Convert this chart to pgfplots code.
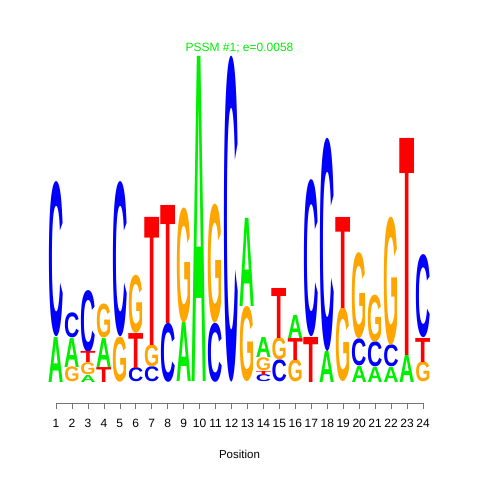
\documentclass[border=0pt]{standalone}
\usepackage{graphicx}
\usepackage{pgfplots}
\pgfplotsset{compat=1.18}
\usepackage{fontspec}
\setmainfont{Liberation Sans}
\definecolor{logoA}{RGB}{0,238,0}
\definecolor{logoC}{RGB}{0,0,255}
\definecolor{logoG}{RGB}{255,165,0}
\definecolor{logoT}{RGB}{255,0,0}
\newdimen\logounit \logounit=162.5bp
\newcommand{\logoletter}[1]{\resizebox*{15.3bp}{\h\logounit}{\bfseries #1}}
\pgfplotsset{
  logo/.style 2 args={
    only marks, mark=none,
    visualization depends on=value \thisrow{h}\as\h,
    nodes near coords={\logoletter{#1}},
    every node near coord/.append style={anchor=south, inner sep=0pt, outer sep=0pt, text=#2},
  }
}
\begin{document}
\begin{tikzpicture}
\begin{axis}[
  name=ax,
  scale only axis, width=367bp, height=346bp,
  xmin=1, xmax=24, ymin=-0.12923, ymax=2,
  axis x line*=bottom, axis y line=none,
  xtick={1,...,24}, ytick=\empty,
  tick align=outside, major tick length=6bp,
  x axis line style={black!55, line width=0.6bp},
  xtick style={black!55, line width=0.6bp},
  /pgf/number format/assume math mode=true,
  xticklabel style={font=\fontsize{12bp}{14bp}\selectfont, anchor=base, yshift=-18bp},
  clip=false,
  title={PSSM \#1; e=0.0058},
  title style={at={(axis description cs:0.5,1)}, anchor=base, yshift=-0.5bp, font=\fontsize{12bp}{14bp}\selectfont, text=logoA},
  xlabel={Position},
  xlabel style={at={(axis description cs:0.5,0)}, anchor=base, yshift=-55bp, font=\fontsize{11.5bp}{14bp}\selectfont},
]
\addplot[logo={A}{logoA}] table[x=x,y=b]{
x b h
1 0 0.277
2 0.092 0.178
3 0 0.043
4 0.092 0.178
9 0 0.363
10 0 2.0
13 0.462 0.542
14 0.148 0.123
16 0.270 0.142
18 0 0.191
20 0 0.098
21 0 0.092
22 0 0.092
23 0 0.166
};
\addplot[logo={C}{logoC}] table[x=x,y=b]{
x b h
1 0.277 0.954
2 0.270 0.154
3 0.185 0.380
5 0.277 0.954
6 0 0.086
7 0 0.092
8 0 0.363
11 0 0.363
12 0 2.0
14 0 0.043
15 0 0.135
17 0.277 0.966
18 0.191 1.311
20 0.098 0.166
21 0.092 0.154
22 0.092 0.135
24 0.271 0.511
};
\addplot[logo={G}{logoG}] table[x=x,y=b]{
x b h
2 0 0.092
3 0.043 0.074
4 0.270 0.209
5 0 0.277
6 0.301 0.357
7 0.092 0.135
9 0.363 0.708
11 0.363 0.732
13 0 0.462
14 0.068 0.080
15 0.135 0.135
16 0 0.135
19 0 0.455
20 0.264 0.529
21 0.246 0.289
22 0.227 0.788
24 0 0.123
};
\addplot[logo={T}{logoT}] table[x=x,y=b]{
x b h
3 0.117 0.068
4 0 0.092
6 0.086 0.215
7 0.227 0.788
8 0.363 0.726
14 0.043 0.025
15 0.270 0.308
16 0.135 0.135
17 0 0.277
19 0.455 0.560
23 0.166 1.335
24 0.123 0.148
};
\end{axis}
\pgfresetboundingbox
\path (ax.south west) ++(-56bp,-77bp) rectangle ++(480bp,480bp);
\end{tikzpicture}
\end{document}
